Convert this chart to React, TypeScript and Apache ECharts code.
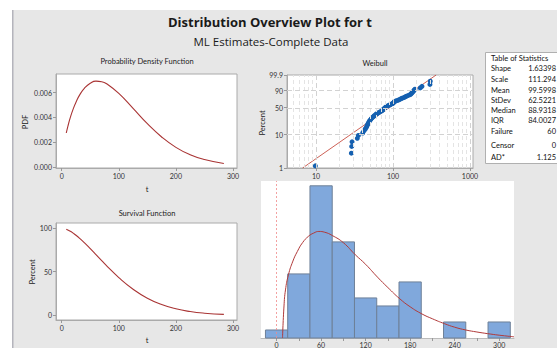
import React, { useEffect, useRef } from 'react';
import * as echarts from 'echarts';

// ---------- data ----------
const pdfT = [8, 11, 15, 20, 25, 32, 40, 50, 60, 70, 80, 100, 125, 150, 175, 200, 225, 250, 284];
const pdfV = [0.00273, 0.00331, 0.00397, 0.00466, 0.00522, 0.00585, 0.00636, 0.00675, 0.00692, 0.00688, 0.00667, 0.00593, 0.00472, 0.00348, 0.00241, 0.00157, 0.00097, 0.00058, 0.00026];

const survT = [8, 15, 20, 25, 32, 40, 50, 60, 70, 80, 100, 125, 150, 175, 200, 225, 250, 284];
const survV = [98.6, 96.3, 94.1, 91.7, 87.8, 82.9, 76.3, 69.5, 62.6, 55.8, 43.2, 29.9, 19.6, 12.3, 7.4, 4.3, 2.4, 1.0];

const weibullT = [9.8, 28.8, 29.1, 29.4, 34.4, 35.5, 40.4, 42.0, 43.7, 45.1, 46.0, 46.9, 47.8, 48.8, 49.8, 51.3, 52.3, 53.9, 55.5, 57.2, 59.0, 60.8, 63.2, 65.8, 68.5, 71.3, 73.4, 74.6, 76.5, 78.0, 79.5, 81.9, 84.4, 87.8, 91.4, 95.1, 99.0, 101.5, 103.0, 104.5, 109.4, 116.1, 121.0, 126.0, 131.0, 138.0, 144.0, 150.0, 158.0, 167.0, 171.0, 175.0, 179.0, 184.0, 188.0, 193.0, 226.0, 238.0, 302.0, 305.0];
const weibullPct = [1.16, 2.81, 4.47, 6.13, 7.78, 9.44, 11.09, 12.75, 14.40, 16.06, 17.72, 19.37, 21.03, 22.68, 24.34, 25.99, 27.65, 29.30, 30.96, 32.62, 34.27, 35.93, 37.58, 39.24, 40.89, 42.55, 44.21, 45.86, 47.52, 49.17, 50.83, 52.48, 54.14, 55.79, 57.45, 59.11, 60.76, 62.42, 64.07, 65.73, 67.38, 69.04, 70.70, 72.35, 74.01, 75.66, 77.32, 78.97, 80.63, 82.28, 83.94, 85.60, 87.25, 88.91, 90.56, 92.22, 93.87, 95.53, 97.19, 98.84];
const fitT = [6.7, 363];
const fitPct = [1, 99.9];
const weibullPctTicks = [1, 10, 50, 90, 99.9];
const weibullPctGrid = [10, 50, 90];
const weibullTTicks = [10, 100, 1000];
const weibullTMajorGrid = [10, 100, 1000];
const weibullTMinorGrid = [5, 6, 7, 8, 9, 20, 30, 40, 50, 60, 70, 80, 90, 200, 300, 400, 500, 600, 700, 800, 900];

const binCenters = [0, 30, 60, 90, 120, 150, 180, 210, 240, 270, 300];
const binCounts = [1, 8, 19, 12, 5, 4, 7, 0, 2, 0, 2];
const binWidth = 30;
const histCurveT = [8, 10, 12, 16, 22, 28, 35, 43, 50, 57, 65, 75, 90, 106, 120, 136, 150, 166, 180, 196, 210, 226, 240, 255, 270, 284, 300, 320];
const histCurveV = [0, 4.0, 6.0, 7.9, 9.6, 10.8, 11.9, 12.7, 13.1, 13.3, 13.2, 12.8, 11.9, 10.4, 9.2, 7.6, 6.3, 4.9, 3.9, 3.0, 2.4, 1.8, 1.35, 1.0, 0.75, 0.55, 0.35, 0.15];

const pdfTicks = [0, 0.002, 0.004, 0.006];
const tTicks = [0, 100, 200, 300];
const survTicks = [0, 50, 100];
const histTicks = [0, 60, 120, 180, 240, 300];
const histMinorTicks = [0, 30, 60, 90, 120, 150, 180, 210, 240, 270, 300];

const statNames = ['Shape', 'Scale', 'Mean', 'StDev', 'Median', 'IQR', 'Failure', 'Censor', 'AD*'];
const statValues = ['1.63398', '111.294', '99.5998', '62.5221', '88.9318', '84.0027', '60', '0', '1.125'];

// ---------- helpers ----------
const FONT = 'Lato, "Open Sans", sans-serif';
const TFONT = '"Open Sans", Lato, sans-serif';
const wb = (p: number) => Math.log(-Math.log(1 - p / 100));
const lg = (t: number) => Math.log10(t);

const labelStyle = { fontSize: 7, color: '#333', fontFamily: FONT };
const tick = (vals: number[]) => ({ show: true, length: 3, customValues: vals, lineStyle: { color: '#999', width: 1 } });
const line = { show: true, onZero: false, lineStyle: { color: '#aaa', width: 1 } };

export default function App() {
  const ref = useRef<HTMLDivElement>(null);
  useEffect(() => {
    if (!ref.current) return;
    const chart = echarts.init(ref.current, undefined, { renderer: 'svg' });

    const pctLabel: Record<string, string> = {};
    weibullPctTicks.forEach((p) => { pctLabel[wb(p).toFixed(4)] = String(p); });

    const statRowsY = [68, 79, 90, 100, 110, 120, 131, 145, 157];
    const graphic: any[] = [
      { type: 'rect', shape: { x: 0, y: 0, width: 557, height: 10 }, style: { fill: '#fff' } },
      { type: 'rect', shape: { x: 0, y: 0, width: 12, height: 348 }, style: { fill: '#fff' } },
      { type: 'rect', shape: { x: 12, y: 10, width: 1.5, height: 338 }, style: { fill: '#b4b4bc' } },
      { type: 'text', x: 270, y: 22, style: { text: 'Distribution Overview Plot for t', fontFamily: TFONT, fontWeight: 'bold', fontSize: 13, fill: '#1a1a1a', align: 'center', verticalAlign: 'middle' } },
      { type: 'text', x: 271, y: 41, style: { text: 'ML Estimates-Complete Data', fontFamily: TFONT, fontSize: 11.5, fill: '#1a1a1a', align: 'center', verticalAlign: 'middle' } },
      { type: 'text', x: 147, y: 61, style: { text: 'Probability Density Function', fontFamily: FONT, fontSize: 7.5, fill: '#222', align: 'center', verticalAlign: 'middle' } },
      { type: 'text', x: 375, y: 63, style: { text: 'Weibull', fontFamily: FONT, fontSize: 7.5, fill: '#222', align: 'center', verticalAlign: 'middle' } },
      { type: 'text', x: 147, y: 213, style: { text: 'Survival Function', fontFamily: FONT, fontSize: 7.5, fill: '#222', align: 'center', verticalAlign: 'middle' } },
      { type: 'text', x: 25, y: 122, rotation: Math.PI / 2, style: { text: 'PDF', fontFamily: FONT, fontSize: 7.5, fill: '#222', align: 'center', verticalAlign: 'middle' } },
      { type: 'text', x: 262, y: 123, rotation: Math.PI / 2, style: { text: 'Percent', fontFamily: FONT, fontSize: 7.5, fill: '#222', align: 'center', verticalAlign: 'middle' } },
      { type: 'text', x: 32, y: 272, rotation: Math.PI / 2, style: { text: 'Percent', fontFamily: FONT, fontSize: 7.5, fill: '#222', align: 'center', verticalAlign: 'middle' } },
      { type: 'text', x: 147, y: 189, style: { text: 't', fontFamily: FONT, fontSize: 7.5, fill: '#222', align: 'center', verticalAlign: 'middle' } },
      { type: 'text', x: 147, y: 340, style: { text: 't', fontFamily: FONT, fontSize: 7.5, fill: '#222', align: 'center', verticalAlign: 'middle' } },
      { type: 'rect', shape: { x: 485.5, y: 52.5, width: 80, height: 111 }, style: { fill: '#fff', stroke: '#b0b0b0', lineWidth: 1 } },
      { type: 'text', x: 491, y: 58, style: { text: 'Table of Statistics', fontFamily: FONT, fontSize: 7.5, fill: '#111', align: 'left', verticalAlign: 'middle' } },
    ];
    statNames.forEach((n, i) => {
      graphic.push({ type: 'text', x: 491, y: statRowsY[i], style: { text: n, fontFamily: FONT, fontSize: 7.5, fill: '#111', align: 'left', verticalAlign: 'middle' } });
      graphic.push({ type: 'text', x: 556, y: statRowsY[i], style: { text: statValues[i], fontFamily: FONT, fontSize: 7.5, fill: '#111', align: 'right', verticalAlign: 'middle' } });
    });

    const option: any = {
      animation: false,
      backgroundColor: '#e7e7e7',
      graphic,
      grid: [
        { left: 56, top: 74, width: 181, height: 94, show: true, backgroundColor: '#fff', borderColor: '#aaa', borderWidth: 1 },
        { left: 287, top: 75, width: 186, height: 93, show: true, backgroundColor: '#fff', borderColor: '#aaa', borderWidth: 1 },
        { left: 56, top: 223, width: 181, height: 97, show: true, backgroundColor: '#fff', borderColor: '#aaa', borderWidth: 1 },
        { left: 261, top: 181, width: 253, height: 161, show: true, backgroundColor: '#fff', borderWidth: 0 },
      ],
      xAxis: [
        { type: 'value', gridIndex: 0, min: -10, max: 307, axisLine: line, splitLine: { show: false }, axisTick: tick(tTicks), axisLabel: { ...labelStyle, margin: 4, customValues: tTicks } },
        { type: 'value', gridIndex: 1, min: lg(4.2), max: lg(1095), axisLine: line, splitLine: { show: false }, axisTick: tick(weibullTTicks.map(lg)), axisLabel: { ...labelStyle, margin: 4, customValues: weibullTTicks.map(lg), formatter: (v: number) => String(Math.round(Math.pow(10, v))) } },
        { type: 'value', gridIndex: 2, min: -10, max: 307, axisLine: line, splitLine: { show: false }, axisTick: tick(tTicks), axisLabel: { ...labelStyle, margin: 4, customValues: tTicks } },
        { type: 'value', gridIndex: 3, min: -21, max: 320, axisLine: { show: true, onZero: false, lineStyle: { color: '#bbb' } }, splitLine: { show: false }, axisTick: tick(histMinorTicks), axisLabel: { ...labelStyle, margin: 3, customValues: histTicks } },
      ],
      yAxis: [
        { type: 'value', gridIndex: 0, min: -0.0001, max: 0.0075, axisLine: line, splitLine: { show: false }, axisTick: tick(pdfTicks), axisLabel: { ...labelStyle, margin: 4, customValues: pdfTicks, formatter: (v: number) => v.toFixed(3) } },
        { type: 'value', gridIndex: 1, min: wb(1), max: wb(99.9), axisLine: line, splitLine: { show: false }, axisTick: tick(weibullPctTicks.map(wb)), axisLabel: { ...labelStyle, margin: 4, customValues: weibullPctTicks.map(wb), formatter: (v: number) => pctLabel[v.toFixed(4)] ?? '' } },
        { type: 'value', gridIndex: 2, min: -5.4, max: 105.7, axisLine: line, splitLine: { show: false }, axisTick: tick(survTicks), axisLabel: { ...labelStyle, margin: 4, customValues: survTicks } },
        { type: 'value', gridIndex: 3, min: 0, max: 19.6, show: false },
      ],
      series: [
        { type: 'line', xAxisIndex: 0, yAxisIndex: 0, smooth: true, showSymbol: false, data: pdfT.map((t, i) => [t, pdfV[i]]), lineStyle: { color: '#a93434', width: 1.1 } },
        {
          type: 'line', xAxisIndex: 1, yAxisIndex: 1, showSymbol: false, z: 2,
          data: fitT.map((t, i) => [lg(t), wb(fitPct[i])]), lineStyle: { color: '#c0392b', width: 0.8 },
          markLine: {
            silent: true, symbol: 'none', label: { show: false }, animation: false,
            data: [
              ...weibullTMinorGrid.map((t) => ({ xAxis: lg(t), lineStyle: { color: '#e4e4e4', type: [4, 3], width: 1 } })),
              ...weibullTMajorGrid.map((t) => ({ xAxis: lg(t), lineStyle: { color: '#d2d2d2', type: [5, 3], width: 1 } })),
              ...weibullPctGrid.map((p) => ({ yAxis: wb(p), lineStyle: { color: '#d2d2d2', type: [5, 3], width: 1 } })),
            ],
          },
        },
        { type: 'scatter', xAxisIndex: 1, yAxisIndex: 1, z: 3, symbolSize: 5, data: weibullT.map((t, i) => [lg(t), wb(weibullPct[i])]), itemStyle: { color: '#1560b0', opacity: 1 } },
        { type: 'line', xAxisIndex: 2, yAxisIndex: 2, smooth: true, showSymbol: false, data: survT.map((t, i) => [t, survV[i]]), lineStyle: { color: '#a93434', width: 1.1 } },
        {
          type: 'custom', xAxisIndex: 3, yAxisIndex: 3, z: 2,
          data: binCenters.map((c, i) => [c - binWidth / 2, c + binWidth / 2, binCounts[i]]).filter((d) => d[2] > 0),
          encode: { x: [0, 1], y: 2 },
          renderItem: (params: any, api: any) => {
            const p0 = api.coord([api.value(0), api.value(2)]);
            const p1 = api.coord([api.value(1), 0]);
            return { type: 'rect', shape: { x: p0[0], y: p0[1], width: p1[0] - p0[0], height: p1[1] - p0[1] }, style: { fill: '#80a8dc', stroke: '#6e8098', lineWidth: 1 } };
          },
        },
        {
          type: 'line', xAxisIndex: 3, yAxisIndex: 3, smooth: true, showSymbol: false, z: 3,
          data: histCurveT.map((t, i) => [t, histCurveV[i]]), lineStyle: { color: '#b03a3a', width: 1 },
          markLine: { silent: true, symbol: 'none', label: { show: false }, data: [{ xAxis: 0 }], lineStyle: { color: '#f08a8a', type: [2, 2], width: 0.8 } },
        },
      ],
    };
    chart.setOption(option);
    return () => chart.dispose();
  }, []);
  return <div ref={ref} style={{ position: 'absolute', left: 0, top: 0, width: 557, height: 348 }} />;
}
